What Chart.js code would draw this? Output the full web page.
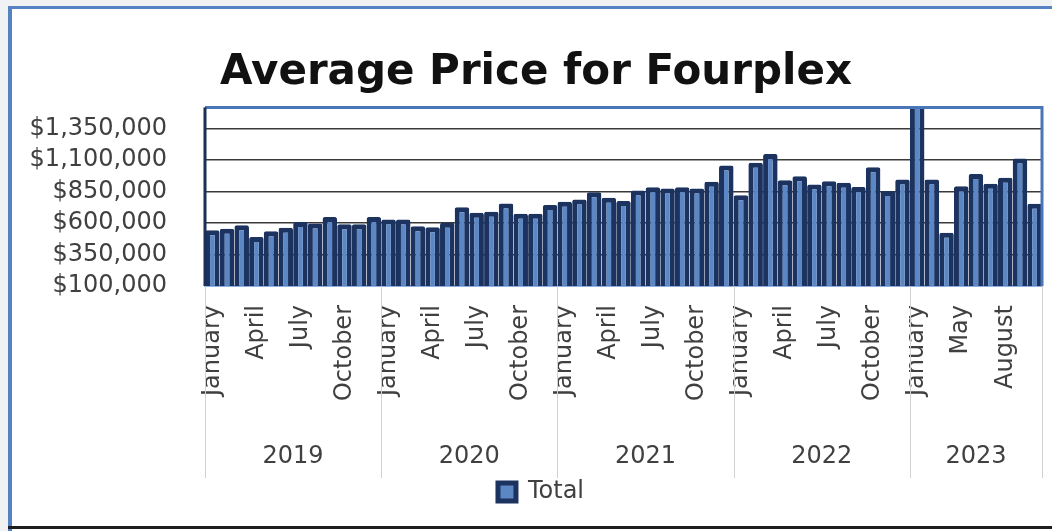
<!DOCTYPE html>
<html>
<head>
<meta charset="utf-8">
<title>Average Price for Fourplex</title>
<script src="https://cdn.jsdelivr.net/npm/chart.js@4.4.1/dist/chart.umd.min.js"></script>
<style>
    html, body { margin: 0; padding: 0; background: #fff; }
    #wrap { width: 1052px; height: 531px; }
</style>
</head>
<body>
<div id="wrap"><canvas id="priceChart" width="1052" height="531"></canvas></div>
<script>
// Categories
const years = ["2019", "2020", "2021", "2022", "2023"];
const fullYear = ["January", "February", "March", "April", "May", "June",
    "July", "August", "September", "October", "November", "December"];
const months2023 = ["January", "February", "March", "May", "June", "July", "August", "September", "October"];
const monthsByYear = [fullYear, fullYear, fullYear, fullYear, months2023];

// Average price (Total)
const total2019 = [544000, 555000, 584000, 490000, 536000, 563000, 608000, 596000, 648000, 590000, 590000, 648000];
const total2020 = [629000, 629000, 576000, 568000, 603000, 727000, 682000, 690000, 756000, 674000, 674000, 745000];
const total2021 = [769000, 788000, 846000, 801000, 775000, 860000, 886000, 875000, 886000, 875000, 928000, 1058000];
const total2022 = [822000, 1079000, 1150000, 941000, 973000, 907000, 933000, 920000, 888000, 1044000, 855000, 947000];
const total2023 = [1650000, 947000, 523000, 894000, 991000, 912000, 960000, 1113000, 753000];

// Y axis tick labels
const yTicks = [100000, 350000, 600000, 850000, 1100000, 1350000];

const FONT = "'DejaVu Sans', sans-serif";
const labels = monthsByYear.flat();
const totals = [].concat(total2019, total2020, total2021, total2022, total2023);

// white sheet + the blue chart frame of the screenshot
const chartFrame = {
    id: "chartFrame",
    beforeDraw(chart) {
        const ctx = chart.ctx;
        const w = chart.width, h = chart.height;
        ctx.save();
        ctx.fillStyle = "#ffffff";
        ctx.fillRect(0, 0, w, h);
        ctx.fillStyle = "#f1f2f4";
        ctx.fillRect(0, 0, w, 6);
        ctx.fillRect(0, 0, 8, h);
        ctx.fillStyle = "#5482c2";
        ctx.fillRect(8, 6, w - 8, 3);
        ctx.fillRect(8, 6, 4, h - 6);
        ctx.fillStyle = "#1e1e1e";
        ctx.fillRect(8, h - 5, w - 8, 3);
        ctx.restore();
    },
    afterLayout(chart) {
        // Excel puts the legend and title a bit right of the page centre
        chart.legend.left += 40;
        chart.titleBlock.left += 30;
    },
    afterDraw(chart) {
        const { ctx, chartArea: a } = chart;
        ctx.save();
        ctx.lineWidth = 3;
        ctx.strokeStyle = "#4a76b8";
        ctx.beginPath();
        ctx.moveTo(a.left, a.top);
        ctx.lineTo(a.right, a.top);
        ctx.lineTo(a.right, a.bottom);
        ctx.stroke();
        ctx.strokeStyle = "#1b2f57";
        ctx.beginPath();
        ctx.moveTo(a.left, a.top);
        ctx.lineTo(a.left, a.bottom);
        ctx.stroke();
        ctx.restore();
    }
};

// Second row of the category axis: years with separators
const yearGroups = {
    id: "yearGroups",
    afterDraw(chart) {
        const x = chart.scales.x;
        const ctx = chart.ctx;
        const edge = i => {
            if (i <= 0) return x.left;
            if (i >= labels.length) return x.right;
            return (x.getPixelForValue(i - 1) + x.getPixelForValue(i)) / 2;
        };
        ctx.save();
        ctx.strokeStyle = "#d2d2d2";
        ctx.lineWidth = 1;
        ctx.fillStyle = "#404040";
        ctx.font = "24px " + FONT;
        ctx.textAlign = "center";
        ctx.textBaseline = "middle";
        let start = 0;
        years.forEach((yr, k) => {
            const n = monthsByYear[k].length;
            const x0 = edge(start), x1 = edge(start + n);
            ctx.beginPath();
            ctx.moveTo(Math.round(x0) + 0.5, x.top);
            ctx.lineTo(Math.round(x0) + 0.5, x.top + 192);
            ctx.stroke();
            ctx.fillText(yr, (x0 + x1) / 2, x.top + 171);
            start += n;
        });
        ctx.beginPath();
        ctx.moveTo(Math.round(x.right) + 0.5, x.top);
        ctx.lineTo(Math.round(x.right) + 0.5, x.top + 192);
        ctx.stroke();
        ctx.restore();
    }
};

new Chart(document.getElementById("priceChart"), {
    type: "bar",
    data: {
        labels,
        datasets: [{
            label: "Total",
            data: totals,
            backgroundColor: "#5b87c5",
            borderColor: "#1c3360",
            borderWidth: 5,
            borderRadius: 2,
            categoryPercentage: 1.0,
            barPercentage: 0.99
        }]
    },
    options: {
        responsive: false,
        animation: false,
        layout: { padding: { left: 0, right: 10, top: 0, bottom: 17 } },
        plugins: {
            title: {
                display: true,
                text: "Average Price for Fourplex",
                color: "#111111",
                font: { family: FONT, size: 42, weight: "bold" },
                padding: { top: 48, bottom: 9 }
            },
            legend: {
                position: "bottom",
                labels: {
                    color: "#404040",
                    font: { family: FONT, size: 24 },
                    boxWidth: 18,
                    boxHeight: 18,
                    padding: 10
                }
            },
            tooltip: { enabled: false }
        },
        scales: {
            x: {
                grid: { display: false, drawTicks: false },
                border: { display: true, color: "#8fb0dc", width: 2 },
                ticks: {
                    autoSkip: false,
                    maxRotation: 90,
                    minRotation: 90,
                    padding: 19,
                    color: "#404040",
                    font: { family: FONT, size: 24 },
                    callback: (val, idx) => idx % 3 === 0 ? labels[idx] : ""
                },
                afterFit: s => {
                    s.height = 184;
                    s.paddingLeft = 0;
                    s.paddingRight = 0;
                }
            },
            y: {
                min: 100000,
                max: 1520000,
                afterBuildTicks: axis => { axis.ticks = yTicks.map(v => ({ value: v })); },
                grid: { color: "#3a3a3a", lineWidth: 1.5, drawTicks: false },
                border: { display: false },
                ticks: {
                    padding: 38,
                    color: "#404040",
                    font: { family: FONT, size: 24 },
                    callback: v => "$" + Number(v).toLocaleString("en-US")
                },
                afterFit: s => {
                    s.width = 205;
                    s.paddingTop = 0;
                    s.paddingBottom = 0;
                }
            }
        }
    },
    plugins: [chartFrame, yearGroups]
});
</script>
</body>
</html>
